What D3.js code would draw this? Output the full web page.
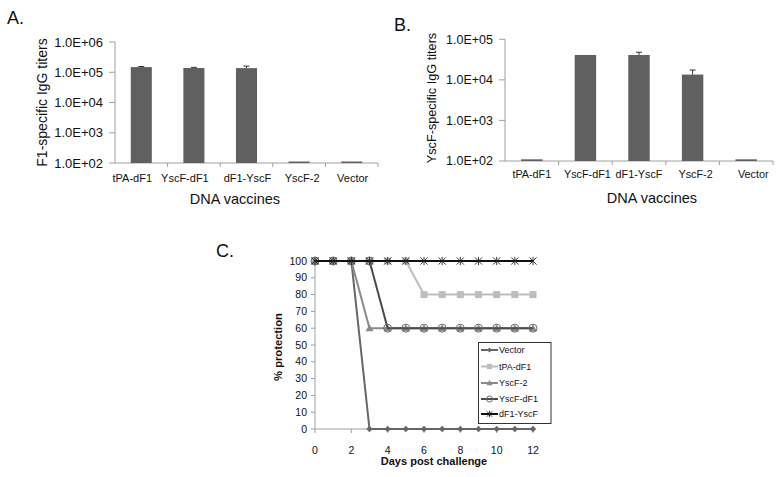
<!DOCTYPE html>
<html>
<head>
<meta charset="utf-8">
<script src="https://cdn.jsdelivr.net/npm/d3@7"></script>
<style>
  html, body { margin: 0; padding: 0; background: #fff; }
  svg { display: block; font-family: "Liberation Sans", Arial, sans-serif; }
</style>
</head>
<body>
<svg id="chart" width="782" height="477"></svg>
<script>
// ---------- DATA ----------
const vaccines = ["tPA-dF1", "YscF-dF1", "dF1-YscF", "YscF-2", "Vector"];
const f1Titers = [148000, 138000, 137000, 112, 112];
const f1ErrUpper = [7000, 7000, 22000, 0, 0];
const yscfTiters = [110, 41000, 41000, 13500, 110];
const yscfErrUpper = [0, 0, 7000, 4000, 0];
const f1TickValues = [1e2, 1e3, 1e4, 1e5, 1e6];
const yscfTickValues = [1e2, 1e3, 1e4, 1e5];
const tickFormatE = v => "1.0E+0" + Math.round(Math.log10(v));

const days = [0, 1, 2, 3, 4, 5, 6, 7, 8, 9, 10, 11, 12];
const protVector   = [100, 100, 100, 0, 0, 0, 0, 0, 0, 0, 0, 0, 0];
const protTPAdF1   = [100, 100, 100, 100, 100, 100, 80, 80, 80, 80, 80, 80, 80];
const protYscF2    = [100, 100, 100, 60, 60, 60, 60, 60, 60, 60, 60, 60, 60];
const protYscFdF1  = [100, 100, 100, 100, 60, 60, 60, 60, 60, 60, 60, 60, 60];
const protdF1YscF  = [100, 100, 100, 100, 100, 100, 100, 100, 100, 100, 100, 100, 100];
const seriesNames = ["Vector", "tPA-dF1", "YscF-2", "YscF-dF1", "dF1-YscF"];
const xTicksC = [0, 2, 4, 6, 8, 10, 12];
const yTicksC = [0, 10, 20, 30, 40, 50, 60, 70, 80, 90, 100];

const svg = d3.select("#chart");
const axisGray = "#a0a0a0";
const barColor = "#606060";

// ---------- BAR PANEL ----------
function barPanel(opt) {
  const g = svg.append("g");
  const x = d3.scaleBand().domain(vaccines).range([opt.x0, opt.x1]).paddingInner(0.6).paddingOuter(0.3);
  const y = d3.scaleLog().domain(opt.domain).range([opt.yBottom, opt.yTop]);

  g.append("line").attr("x1", opt.x0).attr("x2", opt.x0).attr("y1", opt.yTop).attr("y2", opt.yBottom)
    .attr("stroke", axisGray).attr("stroke-width", 1);
  g.append("line").attr("x1", opt.x0).attr("x2", opt.x1).attr("y1", opt.yBottom).attr("y2", opt.yBottom)
    .attr("stroke", axisGray).attr("stroke-width", 1);

  opt.ticks.forEach(t => {
    g.append("line").attr("x1", opt.x0 - 6).attr("x2", opt.x0).attr("y1", y(t)).attr("y2", y(t))
      .attr("stroke", axisGray);
    g.append("text").attr("x", opt.x0 - 12).attr("y", y(t)).attr("dy", "0.35em")
      .attr("text-anchor", "end").attr("font-size", opt.tickFont).attr("fill", "#111")
      .text(tickFormatE(t));
  });

  const step = x.step();
  for (let i = 1; i <= vaccines.length; i++) {
    const xx = opt.x0 + i * step;
    g.append("line").attr("x1", xx).attr("x2", xx).attr("y1", opt.yBottom).attr("y2", opt.yBottom + 4)
      .attr("stroke", axisGray);
  }

  g.selectAll("rect.bar").data(opt.values).enter().append("rect")
    .attr("x", (d, i) => x(vaccines[i]))
    .attr("width", x.bandwidth())
    .attr("y", d => y(d))
    .attr("height", d => opt.yBottom - y(d))
    .attr("fill", barColor);

  opt.values.forEach((v, i) => {
    const e = opt.err[i];
    if (!e) return;
    const cx = x(vaccines[i]) + x.bandwidth() / 2;
    g.append("line").attr("x1", cx).attr("x2", cx).attr("y1", y(v)).attr("y2", y(v + e))
      .attr("stroke", "#333").attr("stroke-width", 1);
    g.append("line").attr("x1", cx - 3).attr("x2", cx + 3).attr("y1", y(v + e)).attr("y2", y(v + e))
      .attr("stroke", "#333").attr("stroke-width", 1);
  });

  vaccines.forEach((c, i) => {
    g.append("text").attr("x", x(c) + x.bandwidth() / 2 + opt.catShift[i]).attr("y", opt.catY)
      .attr("text-anchor", "middle").attr("font-size", opt.catFont).attr("fill", "#111").text(c);
  });

  g.append("text").attr("x", opt.titleX).attr("y", opt.titleY).attr("text-anchor", "middle")
    .attr("font-size", 14.5).attr("fill", "#111").text("DNA vaccines");

  g.append("text").attr("transform", `translate(${opt.yTitleX},${opt.yTitleY}) rotate(-90)`)
    .attr("text-anchor", "middle").attr("font-size", opt.yTitleFont).attr("fill", "#111").text(opt.yTitle);

  g.append("text").attr("x", opt.letterX).attr("y", opt.letterY).attr("font-size", 18)
    .attr("fill", "#111").text(opt.letter);
}

barPanel({
  x0: 115, x1: 378, yTop: 42, yBottom: 163, domain: [1e2, 1e6], ticks: f1TickValues,
  values: f1Titers, err: f1ErrUpper, tickFont: 13, catFont: 11, catY: 182,
  catShift: [-9, -9, 1, 3, 1],
  titleX: 235, titleY: 204, yTitle: "F1-specific IgG titers", yTitleX: 47, yTitleY: 102.5,
  yTitleFont: 14, letter: "A.", letterX: 7, letterY: 24
});

barPanel({
  x0: 505, x1: 773, yTop: 39.3, yBottom: 161, domain: [1e2, 1e5], ticks: yscfTickValues,
  values: yscfTiters, err: yscfErrUpper, tickFont: 12.5, catFont: 10.8, catY: 178,
  catShift: [0, 2, 0, 3, 7],
  titleX: 652, titleY: 203, yTitle: "YscF-specific IgG titers", yTitleX: 436, yTitleY: 98,
  yTitleFont: 12.7, letter: "B.", letterX: 394, letterY: 31
});

// ---------- LINE PANEL C ----------
const gc = svg.append("g");
const xc = d3.scaleLinear().domain([0, 12]).range([315, 533]);
const yc = d3.scaleLinear().domain([0, 100]).range([429, 261]);

gc.append("line").attr("x1", xc(0)).attr("x2", xc(0)).attr("y1", yc(100)).attr("y2", yc(0))
  .attr("stroke", axisGray);
gc.append("line").attr("x1", xc(0)).attr("x2", xc(12)).attr("y1", yc(0)).attr("y2", yc(0))
  .attr("stroke", axisGray);
yTicksC.forEach(t => {
  gc.append("line").attr("x1", xc(0) - 4).attr("x2", xc(0)).attr("y1", yc(t)).attr("y2", yc(t)).attr("stroke", axisGray);
  gc.append("text").attr("x", xc(0) - 8).attr("y", yc(t)).attr("dy", "0.35em").attr("text-anchor", "end")
    .attr("font-size", 10.5).attr("fill", "#111").text(t);
});
xTicksC.forEach(t => {
  gc.append("line").attr("x1", xc(t)).attr("x2", xc(t)).attr("y1", yc(0)).attr("y2", yc(0) + 4).attr("stroke", axisGray);
  gc.append("text").attr("x", xc(t)).attr("y", 454).attr("text-anchor", "middle")
    .attr("font-size", 10.5).attr("fill", "#111").text(t);
});
gc.append("text").attr("x", 434).attr("y", 465).attr("text-anchor", "middle").attr("font-size", 11)
  .attr("font-weight", "bold").attr("fill", "#111").text("Days post challenge");
gc.append("text").attr("transform", "translate(282,347) rotate(-90)").attr("text-anchor", "middle")
  .attr("font-size", 11.2).attr("font-weight", "bold").attr("fill", "#111").text("% protection");
gc.append("text").attr("x", 216).attr("y", 257).attr("font-size", 18).attr("fill", "#111").text("C.");

const seriesC = [
  { name: seriesNames[0], values: protVector,  color: "#666666", marker: "diamond" },
  { name: seriesNames[1], values: protTPAdF1,  color: "#bdbdbd", marker: "square" },
  { name: seriesNames[2], values: protYscF2,   color: "#8a8a8a", marker: "triangle" },
  { name: seriesNames[3], values: protYscFdF1, color: "#4a4a4a", marker: "circle" },
  { name: seriesNames[4], values: protdF1YscF, color: "#111111", marker: "star" }
];

function drawMarker(g, type, cx, cy, color, small) {
  const k = small ? 0.75 : 1;
  if (type === "diamond") {
    const s = 3.2 * k;
    g.append("path").attr("d", `M${cx},${cy - s}L${cx + s},${cy}L${cx},${cy + s}L${cx - s},${cy}Z`)
      .attr("fill", color);
  } else if (type === "square") {
    const s = 3.5 * k;
    g.append("rect").attr("x", cx - s).attr("y", cy - s).attr("width", 2 * s).attr("height", 2 * s).attr("fill", color);
  } else if (type === "triangle") {
    const s = 4 * k;
    g.append("path").attr("d", `M${cx},${cy - s}L${cx + s},${cy + s * 0.75}L${cx - s},${cy + s * 0.75}Z`).attr("fill", color);
  } else if (type === "circle") {
    g.append("circle").attr("cx", cx).attr("cy", cy).attr("r", 4 * k).attr("fill", "none")
      .attr("stroke", "#6a6a6a").attr("stroke-width", 1);
  } else if (type === "star") {
    const s = 3.6 * k;
    g.append("path").attr("d",
      `M${cx - s},${cy - s}L${cx + s},${cy + s}M${cx - s},${cy + s}L${cx + s},${cy - s}M${cx},${cy - s - 0.5}L${cx},${cy + s + 0.5}`)
      .attr("stroke", "#222").attr("stroke-width", 0.9).attr("fill", "none");
  }
}

const line = d3.line().x((d, i) => xc(days[i])).y(d => yc(d));
seriesC.forEach(s => {
  gc.append("path").datum(s.values).attr("d", line).attr("fill", "none")
    .attr("stroke", s.color).attr("stroke-width", 2);
  s.values.forEach((v, i) => drawMarker(gc, s.marker, xc(days[i]), yc(v), s.color, false));
});

// legend
const lg = gc.append("g");
lg.append("rect").attr("x", 478.5).attr("y", 342.5).attr("width", 72.5).attr("height", 81)
  .attr("fill", "#fff").attr("stroke", "#333").attr("stroke-width", 1);
const legendY = [350, 366.5, 383, 399, 414];
seriesC.forEach((s, i) => {
  const yy = legendY[i];
  lg.append("line").attr("x1", 481).attr("x2", 498).attr("y1", yy).attr("y2", yy)
    .attr("stroke", s.color).attr("stroke-width", 2);
  drawMarker(lg, s.marker, 489.5, yy, s.color, true);
  lg.append("text").attr("x", 499).attr("y", yy).attr("dy", "0.35em").attr("font-size", 9)
    .attr("fill", "#111").text(s.name);
});
</script>
</body>
</html>
